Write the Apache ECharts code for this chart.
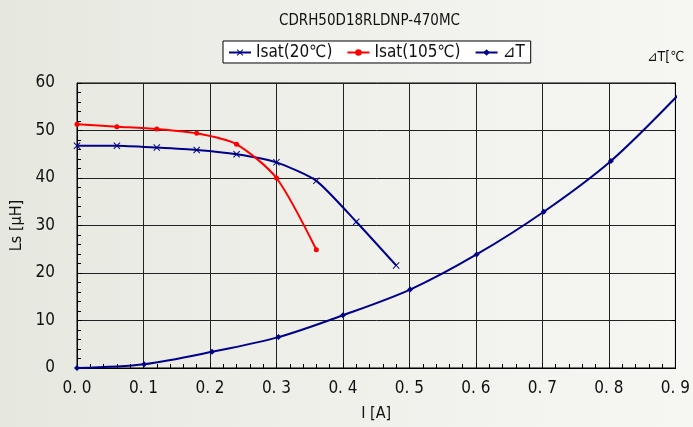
<!DOCTYPE html>
<html><head><meta charset="utf-8">
<script src="https://cdn.jsdelivr.net/npm/echarts@6/dist/echarts.min.js"></script>
<style>html,body{margin:0;padding:0;}#c{width:693px;height:427px;}</style>
</head><body><div id="c"></div>
<script>
var FONT = "'Liberation Sans Narrow','DejaVu Sans Condensed','Noto Sans CJK JP',sans-serif";
var titleText = 'CDRH50D18RLDNP-470MC';
var seriesNames = ['Isat(20℃)', 'Isat(105℃)', '⊿T'];
var isat20X = [0, 0.06, 0.12, 0.18, 0.24, 0.30, 0.36, 0.42, 0.48];
var isat20Y = [46.8, 46.8, 46.4, 45.9, 45.0, 43.3, 39.4, 30.8, 21.6];
var isat105X = [0, 0.06, 0.12, 0.18, 0.24, 0.30, 0.36];
var isat105Y = [51.3, 50.8, 50.3, 49.4, 47.1, 40.0, 24.9];
var dtX = [0, 0.101, 0.203, 0.303, 0.40, 0.501, 0.601, 0.702, 0.803, 0.905];
var dtY = [0, 0.8, 3.4, 6.5, 11.1, 16.5, 23.9, 32.9, 43.6, 57.6];
var xTicks = [0, 0.1, 0.2, 0.3, 0.4, 0.5, 0.6, 0.7, 0.8, 0.9];
var yTicks = [0, 10, 20, 30, 40, 50, 60];

function pairs(xs, ys) { return xs.map(function (x, i) { return [x, ys[i]]; }); }
var dtData = pairs(dtX, dtY).map(function (p, i, a) {
  return i === a.length - 1 ? { value: p, symbol: 'none' } : { value: p };
});
var NAVY = '#00008b';
var XSYM = 'path://M0,1L1,0L5,4L9,0L10,1L6,5L10,9L9,10L5,6L1,10L0,9L4,5Z';

var chart = echarts.init(document.getElementById('c'));
chart.setOption({
  backgroundColor: {
    type: 'linear', x: 0, y: 0, x2: 1, y2: 0,
    colorStops: [{ offset: 0, color: '#e6e8df' }, { offset: 0.5, color: '#f0f0eb' }, { offset: 1, color: '#f6f6f3' }]
  },
  animation: false,
  title: {
    text: titleText, left: 274, top: 9,
    textStyle: { fontFamily: FONT, fontSize: 15, fontWeight: 'normal', color: '#111' }
  },
  graphic: [{
    type: 'text', left: 647, top: 50,
    style: { text: '⊿T[℃', font: '14px ' + FONT, fill: '#111' }
  }],
  legend: {
    data: seriesNames, left: 223, top: 41,
    backgroundColor: '#fff', borderColor: '#000', borderWidth: 1, borderRadius: 0,
    padding: [3, 6, 2, 5], itemWidth: 22, itemHeight: 8, itemGap: 14,
    textStyle: { fontFamily: FONT, fontSize: 17, color: '#111' }
  },
  grid: { left: 77, right: 14, top: 83, bottom: 58, show: true, borderColor: '#000', borderWidth: 1 },
  xAxis: {
    type: 'value', min: 0, max: 0.9, interval: 0.1,
    name: 'I [A]', nameLocation: 'middle', nameGap: 38,
    nameTextStyle: { fontFamily: FONT, fontSize: 16, color: '#111' },
    axisLine: { lineStyle: { color: '#000' } },
    axisTick: { inside: true, length: 5, lineStyle: { color: '#000' } },
    minorTick: { show: true, splitNumber: 5, length: 4, lineStyle: { color: '#000' } },
    splitLine: { show: true, lineStyle: { color: '#222', width: 1 } },
    axisLabel: {
      margin: 12, fontFamily: FONT, fontSize: 17, color: '#111',
      formatter: function (v) { return v.toFixed(1).replace('.', '. '); }
    }
  },
  yAxis: [{
    type: 'value', min: 0, max: 60, interval: 10,
    name: 'Ls [μH]', nameLocation: 'middle', nameGap: 50, nameRotate: 90,
    nameTextStyle: { fontFamily: FONT, fontSize: 16, color: '#111' },
    axisLine: { show: true, lineStyle: { color: '#000' } },
    axisTick: { show: true, inside: true, length: 5, lineStyle: { color: '#000' } },
    minorTick: { show: true, splitNumber: 5, length: 4, lineStyle: { color: '#000' } },
    splitLine: { show: true, lineStyle: { color: '#222', width: 1 } },
    axisLabel: { margin: 22, fontFamily: FONT, fontSize: 17, color: '#111' }
  }, {
    type: 'value', min: 0, max: 60, interval: 10, position: 'right',
    axisLine: { show: true, lineStyle: { color: '#000' } },
    axisTick: { show: true, inside: true, length: 4, lineStyle: { color: '#000' } },
    axisLabel: { show: false }, splitLine: { show: false }
  }],
  series: [{
    name: seriesNames[0], type: 'line', data: pairs(isat20X, isat20Y),
    smooth: 0.2, symbol: XSYM, symbolSize: 7, color: NAVY,
    lineStyle: { width: 2, color: NAVY }, itemStyle: { color: NAVY }
  }, {
    name: seriesNames[1], type: 'line', data: pairs(isat105X, isat105Y),
    smooth: 0.25, symbol: 'circle', symbolSize: 5, color: '#ff0000',
    lineStyle: { width: 2, color: '#ff0000' }, itemStyle: { color: '#ff0000' }
  }, {
    name: seriesNames[2], type: 'line', data: dtData,
    smooth: 0.3, symbol: 'diamond', symbolSize: 6, color: NAVY,
    lineStyle: { width: 2, color: NAVY }, itemStyle: { color: NAVY }
  }]
});
</script></body></html>
